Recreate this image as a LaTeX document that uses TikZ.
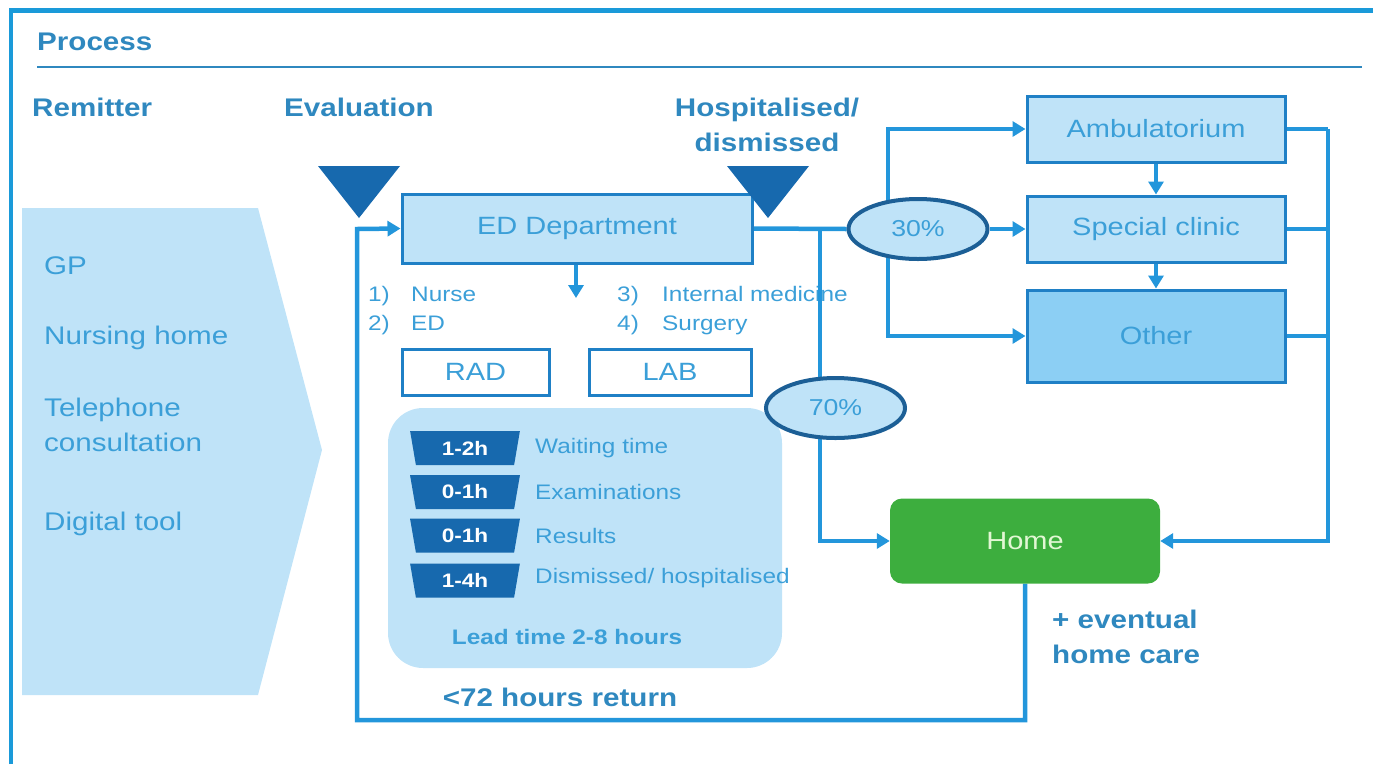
\documentclass[tikz,border=0pt]{standalone}
\usepackage{fontspec}
\setmainfont{Liberation Sans}[FakeStretch=1.16]
\usetikzlibrary{arrows.meta,shapes.geometric,calc}
\definecolor{frameblue}{HTML}{1A9AD9}
\definecolor{connblue}{HTML}{2396DB}
\definecolor{boxborder}{HTML}{1F80C6}
\definecolor{boxfill}{HTML}{BFE3F8}
\definecolor{otherfill}{HTML}{8CCFF4}
\definecolor{darkblue}{HTML}{1769AE}
\definecolor{ellborder}{HTML}{1C5F96}
\definecolor{titleblue}{HTML}{2F88BF}
\definecolor{bodyblue}{HTML}{3B9FD8}
\definecolor{homegreen}{HTML}{3DAE3E}
\definecolor{hometext}{HTML}{E2F7D4}
\pgfdeclarelayer{bg}
\pgfsetlayers{bg,main}
\tikzset{
  title/.style={font=\fontsize{25.5}{35}\selectfont\bfseries, text=titleblue, inner sep=0pt},
  body/.style={font=\fontsize{25.5}{35}\selectfont, text=bodyblue, inner sep=0pt},
  listtxt/.style={font=\fontsize{21}{26}\selectfont, text=bodyblue, inner sep=0pt, anchor=base west},
  boxnode/.style={draw=boxborder, line width=3pt, fill=boxfill, text=bodyblue,
    font=\fontsize{25}{30}\selectfont, minimum width=258pt, minimum height=66pt, inner sep=0pt},
  labbox/.style={draw=boxborder, line width=3pt, fill=white, text=bodyblue,
    font=\fontsize{25}{30}\selectfont, minimum height=46pt, inner sep=0pt},
  pct/.style={ellipse, draw=ellborder, line width=4pt, fill=boxfill, text=bodyblue,
    font=\fontsize{23}{28}\selectfont, minimum width=139pt, minimum height=60pt, inner sep=0pt},
  trap/.style={trapezium, trapezium angle=79, shape border rotate=180, trapezium stretches=true,
    fill=darkblue, text=white, font=\fontsize{19.5}{23}\selectfont\bfseries,
    minimum width=110pt, minimum height=34pt, inner sep=0pt},
  conn/.style={draw=connblue, line width=4.5pt},
  tip/.style={-{Triangle[length=13pt,width=15pt]}},
}
\begin{document}
\begin{tikzpicture}[x=1pt,y=-1pt]
\useasboundingbox (0,0) rectangle (1373,764);
% frame
\draw[frameblue, line width=4.5pt] (11,764) -- (11,10.5) -- (1373,10.5);
\node[title, anchor=west] (process) at (37,42) {Process};
\draw[titleblue, line width=2pt] (37,67) -- (1362,67);
\node[title, anchor=west] (remitter) at (32,107) {Remitter};
\node[title, anchor=west] (evaluation) at (284,107) {Evaluation};
\node[title, align=center] (hosp) at (767,125) {Hospitalised/\\dismissed};

% remitter chevron
\fill[boxfill] (22,208) -- (258,208) -- (322,450) -- (258,695) -- (22,695) -- cycle;
\node[body, anchor=west] (gp) at (44,266) {GP};
\node[body, anchor=west] (nh) at (44,338) {Nursing home};
\node[body, anchor=west, align=left] (tel) at (44,425) {Telephone\\consultation};
\node[body, anchor=west] (dig) at (44,524) {Digital tool};

% triangles
\fill[darkblue] (318,166) -- (400,166) -- (359,218) -- cycle;

% ED
\node[boxnode, minimum width=350pt, minimum height=69pt] (ed) at (577,228.5) {ED Department};
\fill[darkblue] (727,166) -- (809,166) -- (768,218) -- cycle;

\node[labbox, minimum width=147pt] (rad) at (475.5,372) {RAD};
\node[labbox, minimum width=162pt] (lab) at (670,372) {LAB};

% lead time region
\node[fill=boxfill, rounded corners=35pt, minimum width=394pt, minimum height=260pt] (lead) at (585,538) {};
\node[trap] (t1) at (465,448) {1-2h};
\node[trap] (t2) at (465,492) {0-1h};
\node[trap] (t3) at (465,535.5) {0-1h};
\node[trap] (t4) at (465,580.5) {1-4h};
\node[listtxt, anchor=west] (w1) at (535,448) {Waiting time};
\node[listtxt, anchor=west] (w2) at (535,492) {Examinations};
\node[listtxt, anchor=west] (w3) at (535,536) {Results};
\node[listtxt, anchor=west] (w4) at (535,578) {Dismissed/ hospitalised};
\node[listtxt, anchor=center, font=\fontsize{21}{26}\selectfont\bfseries] (leadt) at (567,637) {Lead time 2-8 hours};
\node[title, text=titleblue] (ret) at (560,697) {<72 hours return};

% right side boxes
\node[boxnode] (amb) at (1156,129) {Ambulatorium};
\node[boxnode] (spec) at (1156,229) {Special clinic};
\node[boxnode, fill=otherfill, minimum height=92pt] (other) at (1156,336) {Other};
\node[fill=homegreen, rounded corners=12pt, minimum width=270pt, minimum height=85pt,
  text=hometext, font=\fontsize{25}{30}\selectfont] (home) at (1025,541) {Home};
\node[title, anchor=west, align=left] (care) at (1052,637) {+ eventual\\home care};

\node[pct] (p30) at (918,229) {30\%};
\node[pct] (p70) at (835.5,408) {70\%};

% coordinates
\coordinate (j70) at (820,229);
\coordinate (j30) at (888,229);
\coordinate (busT) at (1328,129);
\coordinate (loopB) at (1025,720);
\coordinate (loopL) at (357,229);
\coordinate (edarr) at (576,298);

\begin{pgfonlayer}{bg}
\node[listtxt] (n1) at (368,301) {1)};
\node[listtxt] (n1t) at (411,301) {Nurse};
\node[listtxt] (n2) at (368,330) {2)};
\node[listtxt] (n2t) at (411,330) {ED};
\node[listtxt] (n3) at (617,301) {3)};
\node[listtxt] (n3t) at (662,301) {Internal medicine};
\node[listtxt] (n4) at (617,330) {4)};
\node[listtxt] (n4t) at (662,330) {Surgery};
\draw[conn] (ed.east) -- (p30.west);
\draw[conn, tip] (j70) -- (820,541) -- (home.west);
\draw[conn, tip] (j30) |- (amb.west);
\draw[conn, tip] (j30) |- (other.west);
\draw[conn, tip] (p30.east) -- (spec.west);
\draw[conn, tip] (amb.south) -- (spec.north);
\draw[conn, tip] (spec.south) -- (other.north);
\draw[conn] (amb.east) -- (busT);
\draw[conn] (spec.east) -- (busT |- spec.east);
\draw[conn] (other.east) -- (busT |- other.east);
\draw[conn, tip] (busT) |- (home.east);
\draw[conn, tip] (home.south) -- (loopB) -| (loopL) -- (ed.west);
\draw[conn, tip] (ed.south -| edarr) -- (edarr);
\end{pgfonlayer}
\end{tikzpicture}
\end{document}
